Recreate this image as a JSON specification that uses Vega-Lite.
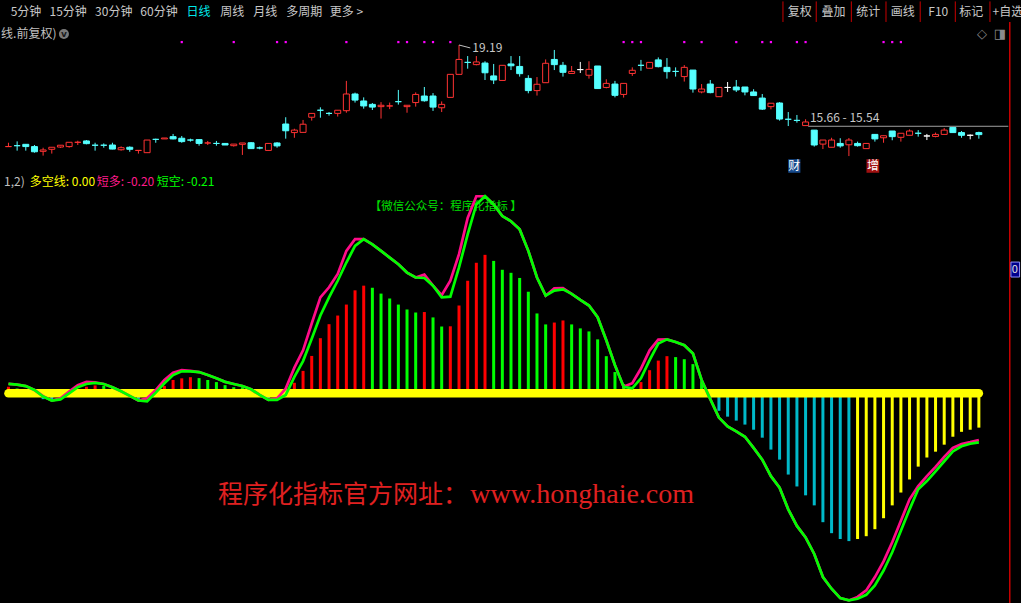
{
"$schema": "https://vega.github.io/schema/vega-lite/v6.json",
"usermeta": {"embedOptions": {"actions": false}},
"width": 1021, "height": 603, "autosize": "none", "padding": 0,
"background": "#000000",
"config": {"view": {"stroke": null}, "axis": {"disable": true}, "text": {"font": "Noto Sans CJK SC"}},
"datasets": {
"candles": [
{"i":0,"k":"fr","o":14.69,"h":14.86,"l":14.69,"c":14.69},
{"i":1,"k":"fc","o":14.73,"h":14.92,"l":14.51,"c":14.73},
{"i":2,"k":"dn","o":14.79,"h":14.79,"l":14.51,"c":14.69},
{"i":3,"k":"dn","o":14.69,"h":14.76,"l":14.42,"c":14.46},
{"i":4,"k":"up","o":14.48,"h":14.64,"l":14.29,"c":14.54},
{"i":5,"k":"up","o":14.57,"h":14.66,"l":14.38,"c":14.66},
{"i":6,"k":"up","o":14.67,"h":14.75,"l":14.63,"c":14.75},
{"i":7,"k":"up","o":14.69,"h":14.88,"l":14.64,"c":14.88},
{"i":8,"k":"fr","o":14.88,"h":14.95,"l":14.76,"c":14.88},
{"i":9,"k":"dn","o":14.94,"h":14.98,"l":14.79,"c":14.82},
{"i":10,"k":"fc","o":14.75,"h":14.86,"l":14.51,"c":14.75},
{"i":11,"k":"fc","o":14.75,"h":14.83,"l":14.64,"c":14.75},
{"i":12,"k":"dn","o":14.76,"h":14.86,"l":14.57,"c":14.58},
{"i":13,"k":"up","o":14.55,"h":14.70,"l":14.51,"c":14.64},
{"i":14,"k":"dn","o":14.66,"h":14.70,"l":14.46,"c":14.57},
{"i":15,"k":"fr","o":14.52,"h":14.52,"l":14.38,"c":14.52},
{"i":16,"k":"up","o":14.42,"h":14.98,"l":14.42,"c":14.98},
{"i":17,"k":"fc","o":15.01,"h":15.04,"l":14.86,"c":15.01},
{"i":18,"k":"up","o":15.03,"h":15.07,"l":15.03,"c":15.07},
{"i":19,"k":"dn","o":15.13,"h":15.25,"l":15.01,"c":15.03},
{"i":20,"k":"dn","o":15.06,"h":15.16,"l":14.86,"c":14.91},
{"i":21,"k":"fc","o":14.98,"h":15.04,"l":14.91,"c":14.98},
{"i":22,"k":"dn","o":15.00,"h":15.00,"l":14.73,"c":14.83},
{"i":23,"k":"fr","o":14.85,"h":14.94,"l":14.76,"c":14.85},
{"i":24,"k":"fc","o":14.83,"h":14.94,"l":14.73,"c":14.83},
{"i":25,"k":"dn","o":14.83,"h":14.83,"l":14.76,"c":14.76},
{"i":26,"k":"up","o":14.73,"h":14.80,"l":14.69,"c":14.80},
{"i":27,"k":"up","o":14.79,"h":14.85,"l":14.32,"c":14.85},
{"i":28,"k":"dn","o":14.86,"h":14.89,"l":14.60,"c":14.60},
{"i":29,"k":"fc","o":14.63,"h":14.69,"l":14.57,"c":14.63},
{"i":30,"k":"up","o":14.52,"h":14.83,"l":14.52,"c":14.83},
{"i":31,"k":"dn","o":14.85,"h":14.89,"l":14.64,"c":14.72},
{"i":32,"k":"dn","o":15.69,"h":15.99,"l":15.04,"c":15.39},
{"i":33,"k":"up","o":15.31,"h":15.48,"l":15.08,"c":15.42},
{"i":34,"k":"up","o":15.32,"h":15.87,"l":15.32,"c":15.68},
{"i":35,"k":"up","o":15.99,"h":16.16,"l":15.84,"c":16.16},
{"i":36,"k":"fc","o":16.30,"h":16.43,"l":15.97,"c":16.30},
{"i":37,"k":"fc","o":16.16,"h":16.22,"l":16.06,"c":16.16},
{"i":38,"k":"up","o":16.16,"h":16.30,"l":16.02,"c":16.30},
{"i":39,"k":"up","o":16.28,"h":17.60,"l":16.19,"c":17.02},
{"i":40,"k":"dn","o":17.02,"h":17.08,"l":16.64,"c":16.75},
{"i":41,"k":"dn","o":16.71,"h":16.87,"l":16.37,"c":16.49},
{"i":42,"k":"dn","o":16.56,"h":16.62,"l":16.31,"c":16.44},
{"i":43,"k":"up","o":16.46,"h":16.66,"l":15.93,"c":16.52},
{"i":44,"k":"fr","o":16.49,"h":16.64,"l":16.35,"c":16.49},
{"i":45,"k":"fc","o":16.68,"h":17.20,"l":16.55,"c":16.68},
{"i":46,"k":"up","o":16.46,"h":16.52,"l":16.19,"c":16.52},
{"i":47,"k":"up","o":16.64,"h":17.09,"l":16.46,"c":17.00},
{"i":48,"k":"dn","o":16.93,"h":17.33,"l":16.68,"c":16.72},
{"i":49,"k":"dn","o":16.93,"h":17.06,"l":16.27,"c":16.44},
{"i":50,"k":"up","o":16.41,"h":16.69,"l":16.22,"c":16.56},
{"i":51,"k":"up","o":16.87,"h":17.89,"l":16.87,"c":17.89},
{"i":52,"k":"up","o":17.89,"h":19.19,"l":17.89,"c":18.55},
{"i":53,"k":"fc","o":18.42,"h":18.70,"l":18.14,"c":18.42},
{"i":54,"k":"up","o":18.32,"h":18.70,"l":18.29,"c":18.44},
{"i":55,"k":"dn","o":18.39,"h":18.47,"l":17.64,"c":17.96},
{"i":56,"k":"dn","o":17.82,"h":18.35,"l":17.46,"c":17.64},
{"i":57,"k":"up","o":17.62,"h":18.29,"l":17.62,"c":18.29},
{"i":58,"k":"dn","o":18.35,"h":18.70,"l":18.08,"c":18.27},
{"i":59,"k":"dn","o":18.24,"h":18.70,"l":17.79,"c":17.92},
{"i":60,"k":"dn","o":17.71,"h":17.85,"l":17.05,"c":17.17},
{"i":61,"k":"up","o":17.17,"h":17.77,"l":16.95,"c":17.45},
{"i":62,"k":"up","o":17.52,"h":18.55,"l":17.52,"c":18.38},
{"i":63,"k":"dn","o":18.55,"h":18.97,"l":18.08,"c":18.32},
{"i":64,"k":"dn","o":18.29,"h":18.44,"l":17.79,"c":17.98},
{"i":65,"k":"up","o":17.93,"h":18.26,"l":17.93,"c":18.02},
{"i":66,"k":"fw","o":18.10,"h":18.44,"l":17.95,"c":18.10},
{"i":67,"k":"up","o":17.85,"h":18.47,"l":17.70,"c":18.11},
{"i":68,"k":"dn","o":18.26,"h":18.26,"l":17.26,"c":17.26},
{"i":69,"k":"up","o":17.31,"h":17.67,"l":17.27,"c":17.49},
{"i":70,"k":"dn","o":17.46,"h":17.60,"l":16.87,"c":16.96},
{"i":71,"k":"up","o":17.00,"h":17.49,"l":16.86,"c":17.49},
{"i":72,"k":"up","o":17.93,"h":18.20,"l":17.82,"c":18.07},
{"i":73,"k":"fc","o":18.29,"h":18.53,"l":18.05,"c":18.29},
{"i":74,"k":"up","o":18.16,"h":18.42,"l":18.16,"c":18.42},
{"i":75,"k":"dn","o":18.53,"h":18.64,"l":18.20,"c":18.23},
{"i":76,"k":"dn","o":18.20,"h":18.61,"l":17.70,"c":18.01},
{"i":77,"k":"fc","o":18.02,"h":18.20,"l":17.79,"c":18.02},
{"i":78,"k":"up","o":17.79,"h":18.30,"l":17.57,"c":18.20},
{"i":79,"k":"dn","o":18.08,"h":18.08,"l":17.08,"c":17.24},
{"i":80,"k":"up","o":17.11,"h":17.46,"l":17.05,"c":17.24},
{"i":81,"k":"dn","o":17.46,"h":17.64,"l":17.05,"c":17.08},
{"i":82,"k":"up","o":16.90,"h":17.31,"l":16.90,"c":17.31},
{"i":83,"k":"fw","o":17.31,"h":17.55,"l":17.11,"c":17.31},
{"i":84,"k":"dn","o":17.33,"h":17.64,"l":17.11,"c":17.20},
{"i":85,"k":"dn","o":17.33,"h":17.33,"l":16.96,"c":17.11},
{"i":86,"k":"dn","o":17.11,"h":17.23,"l":16.93,"c":16.95},
{"i":87,"k":"dn","o":16.84,"h":17.02,"l":16.31,"c":16.35},
{"i":88,"k":"up","o":16.46,"h":16.61,"l":16.34,"c":16.61},
{"i":89,"k":"dn","o":16.62,"h":16.66,"l":15.84,"c":15.91},
{"i":90,"k":"fc","o":15.90,"h":16.22,"l":15.60,"c":15.90},
{"i":91,"k":"fc","o":15.85,"h":16.09,"l":15.75,"c":15.85},
{"i":92,"k":"up","o":15.62,"h":15.90,"l":15.62,"c":15.78},
{"i":93,"k":"dn","o":15.42,"h":15.42,"l":14.69,"c":14.76},
{"i":94,"k":"up","o":14.80,"h":14.98,"l":14.58,"c":14.98},
{"i":95,"k":"up","o":14.66,"h":15.08,"l":14.66,"c":14.98},
{"i":96,"k":"dn","o":14.83,"h":15.06,"l":14.64,"c":14.72},
{"i":97,"k":"up","o":14.77,"h":15.07,"l":14.27,"c":14.98},
{"i":98,"k":"dn","o":14.83,"h":14.91,"l":14.69,"c":14.73},
{"i":99,"k":"up","o":14.60,"h":14.83,"l":14.60,"c":14.83},
{"i":100,"k":"dn","o":15.23,"h":15.23,"l":14.91,"c":15.03},
{"i":101,"k":"up","o":15.08,"h":15.17,"l":14.86,"c":15.17},
{"i":102,"k":"dn","o":15.38,"h":15.38,"l":14.97,"c":15.13},
{"i":103,"k":"up","o":15.10,"h":15.28,"l":14.91,"c":15.28},
{"i":104,"k":"up","o":15.19,"h":15.45,"l":15.19,"c":15.38},
{"i":105,"k":"fc","o":15.28,"h":15.42,"l":15.13,"c":15.28},
{"i":106,"k":"fw","o":15.16,"h":15.25,"l":14.98,"c":15.16},
{"i":107,"k":"up","o":15.14,"h":15.31,"l":15.10,"c":15.23},
{"i":108,"k":"up","o":15.23,"h":15.51,"l":15.23,"c":15.42},
{"i":109,"k":"dn","o":15.54,"h":15.54,"l":15.31,"c":15.31},
{"i":110,"k":"dn","o":15.31,"h":15.38,"l":15.08,"c":15.19},
{"i":111,"k":"fw","o":15.19,"h":15.23,"l":15.01,"c":15.19},
{"i":112,"k":"dn","o":15.31,"h":15.35,"l":15.04,"c":15.22}
],
"ind": [
{"i":0,"b":0.028,"bk":"r","p":0.040,"g":0.040},
{"i":1,"b":0.021,"bk":"gr","p":0.037,"g":0.037},
{"i":2,"b":0.017,"bk":"gr","p":0.031,"g":0.031},
{"i":3,"b":-0.008,"bk":"cy","p":0.014,"g":0.014},
{"i":4,"b":-0.025,"bk":"cy","p":-0.012,"g":-0.014},
{"i":5,"b":-0.030,"bk":"cy","p":-0.031,"g":-0.031},
{"i":6,"b":-0.008,"bk":"ye","p":-0.022,"g":-0.026},
{"i":7,"b":0.008,"bk":"r","p":0.007,"g":0.000},
{"i":8,"b":0.014,"bk":"r","p":0.035,"g":0.026},
{"i":9,"b":0.028,"bk":"r","p":0.049,"g":0.040},
{"i":10,"b":0.034,"bk":"r","p":0.047,"g":0.045},
{"i":11,"b":0.032,"bk":"gr","p":0.040,"g":0.040},
{"i":12,"b":0.026,"bk":"gr","p":0.026,"g":0.026},
{"i":13,"b":0.010,"bk":"gr","p":0.009,"g":0.009},
{"i":14,"b":-0.015,"bk":"cy","p":-0.011,"g":-0.011},
{"i":15,"b":-0.025,"bk":"cy","p":-0.031,"g":-0.031},
{"i":16,"b":0.004,"bk":"r","p":-0.021,"g":-0.034},
{"i":17,"b":0.010,"bk":"r","p":0.014,"g":0.003},
{"i":18,"b":0.031,"bk":"r","p":0.057,"g":0.043},
{"i":19,"b":0.057,"bk":"r","p":0.088,"g":0.078},
{"i":20,"b":0.064,"bk":"r","p":0.099,"g":0.094},
{"i":21,"b":0.069,"bk":"r","p":0.096,"g":0.094},
{"i":22,"b":0.065,"bk":"gr","p":0.091,"g":0.091},
{"i":23,"b":0.057,"bk":"gr","p":0.078,"g":0.078},
{"i":24,"b":0.048,"bk":"gr","p":0.064,"g":0.064},
{"i":25,"b":0.035,"bk":"gr","p":0.049,"g":0.049},
{"i":26,"b":0.026,"bk":"gr","p":0.040,"g":0.040},
{"i":27,"b":0.026,"bk":"gr","p":0.031,"g":0.031},
{"i":28,"b":0.020,"bk":"gr","p":0.017,"g":0.017},
{"i":29,"b":-0.010,"bk":"cy","p":-0.007,"g":-0.007},
{"i":30,"b":-0.020,"bk":"cy","p":-0.028,"g":-0.028},
{"i":31,"b":-0.005,"bk":"ye","p":-0.022,"g":-0.028},
{"i":32,"b":0.008,"bk":"r","p":0.020,"g":-0.007},
{"i":33,"b":0.045,"bk":"r","p":0.110,"g":0.070},
{"i":34,"b":0.096,"bk":"r","p":0.184,"g":0.138},
{"i":35,"b":0.160,"bk":"r","p":0.299,"g":0.234},
{"i":36,"b":0.236,"bk":"r","p":0.411,"g":0.333},
{"i":37,"b":0.296,"bk":"r","p":0.454,"g":0.411},
{"i":38,"b":0.333,"bk":"r","p":0.511,"g":0.482},
{"i":39,"b":0.380,"bk":"r","p":0.610,"g":0.560},
{"i":40,"b":0.441,"bk":"r","p":0.660,"g":0.631},
{"i":41,"b":0.461,"bk":"r","p":0.660,"g":0.660},
{"i":42,"b":0.452,"bk":"gr","p":0.638,"g":0.638},
{"i":43,"b":0.427,"bk":"gr","p":0.610,"g":0.610},
{"i":44,"b":0.406,"bk":"gr","p":0.581,"g":0.581},
{"i":45,"b":0.380,"bk":"gr","p":0.553,"g":0.553},
{"i":46,"b":0.359,"bk":"gr","p":0.517,"g":0.517},
{"i":47,"b":0.346,"bk":"gr","p":0.496,"g":0.496},
{"i":48,"b":0.348,"bk":"r","p":0.508,"g":0.494},
{"i":49,"b":0.325,"bk":"gr","p":0.461,"g":0.461},
{"i":50,"b":0.286,"bk":"gr","p":0.420,"g":0.411},
{"i":51,"b":0.287,"bk":"r","p":0.482,"g":0.414},
{"i":52,"b":0.376,"bk":"r","p":0.596,"g":0.539},
{"i":53,"b":0.482,"bk":"r","p":0.751,"g":0.681},
{"i":54,"b":0.559,"bk":"r","p":0.844,"g":0.809},
{"i":55,"b":0.593,"bk":"r","p":0.844,"g":0.844},
{"i":56,"b":0.567,"bk":"gr","p":0.809,"g":0.809},
{"i":57,"b":0.529,"bk":"gr","p":0.759,"g":0.759},
{"i":58,"b":0.516,"bk":"gr","p":0.737,"g":0.737},
{"i":59,"b":0.494,"bk":"gr","p":0.702,"g":0.702},
{"i":60,"b":0.435,"bk":"gr","p":0.610,"g":0.610},
{"i":61,"b":0.342,"bk":"gr","p":0.496,"g":0.496},
{"i":62,"b":0.295,"bk":"gr","p":0.418,"g":0.418},
{"i":63,"b":0.303,"bk":"r","p":0.449,"g":0.440},
{"i":64,"b":0.312,"bk":"r","p":0.450,"g":0.445},
{"i":65,"b":0.295,"bk":"gr","p":0.426,"g":0.426},
{"i":66,"b":0.278,"bk":"gr","p":0.400,"g":0.400},
{"i":67,"b":0.265,"bk":"gr","p":0.376,"g":0.376},
{"i":68,"b":0.231,"bk":"gr","p":0.326,"g":0.326},
{"i":69,"b":0.159,"bk":"gr","p":0.227,"g":0.227},
{"i":70,"b":0.091,"bk":"gr","p":0.120,"g":0.120},
{"i":71,"b":0.040,"bk":"gr","p":0.028,"g":0.028},
{"i":72,"b":0.008,"bk":"r","p":0.043,"g":0.021},
{"i":73,"b":0.048,"bk":"r","p":0.106,"g":0.064},
{"i":74,"b":0.099,"bk":"r","p":0.184,"g":0.142},
{"i":75,"b":0.140,"bk":"r","p":0.230,"g":0.213},
{"i":76,"b":0.159,"bk":"r","p":0.231,"g":0.231},
{"i":77,"b":0.155,"bk":"gr","p":0.220,"g":0.220},
{"i":78,"b":0.146,"bk":"gr","p":0.206,"g":0.206},
{"i":79,"b":0.125,"bk":"gr","p":0.170,"g":0.170},
{"i":80,"b":0.052,"bk":"gr","p":0.057,"g":0.057},
{"i":81,"b":-0.018,"bk":"cy","p":-0.025,"g":-0.025},
{"i":82,"b":-0.075,"bk":"cy","p":-0.104,"g":-0.104},
{"i":83,"b":-0.100,"bk":"cy","p":-0.142,"g":-0.142},
{"i":84,"b":-0.117,"bk":"cy","p":-0.163,"g":-0.163},
{"i":85,"b":-0.134,"bk":"cy","p":-0.186,"g":-0.186},
{"i":86,"b":-0.156,"bk":"cy","p":-0.234,"g":-0.234},
{"i":87,"b":-0.190,"bk":"cy","p":-0.284,"g":-0.284},
{"i":88,"b":-0.241,"bk":"cy","p":-0.355,"g":-0.355},
{"i":89,"b":-0.284,"bk":"cy","p":-0.404,"g":-0.404},
{"i":90,"b":-0.348,"bk":"cy","p":-0.497,"g":-0.497},
{"i":91,"b":-0.399,"bk":"cy","p":-0.568,"g":-0.568},
{"i":92,"b":-0.437,"bk":"cy","p":-0.617,"g":-0.617},
{"i":93,"b":-0.480,"bk":"cy","p":-0.688,"g":-0.688},
{"i":94,"b":-0.552,"bk":"cy","p":-0.787,"g":-0.787},
{"i":95,"b":-0.599,"bk":"cy","p":-0.837,"g":-0.837},
{"i":96,"b":-0.624,"bk":"cy","p":-0.877,"g":-0.877},
{"i":97,"b":-0.633,"bk":"cy","p":-0.887,"g":-0.887},
{"i":98,"b":-0.624,"bk":"ye","p":-0.872,"g":-0.880},
{"i":99,"b":-0.612,"bk":"ye","p":-0.844,"g":-0.863},
{"i":100,"b":-0.582,"bk":"ye","p":-0.787,"g":-0.823},
{"i":101,"b":-0.535,"bk":"ye","p":-0.720,"g":-0.759},
{"i":102,"b":-0.480,"bk":"ye","p":-0.638,"g":-0.681},
{"i":103,"b":-0.425,"bk":"ye","p":-0.546,"g":-0.589},
{"i":104,"b":-0.369,"bk":"ye","p":-0.454,"g":-0.497},
{"i":105,"b":-0.314,"bk":"ye","p":-0.397,"g":-0.411},
{"i":106,"b":-0.275,"bk":"ye","p":-0.355,"g":-0.376},
{"i":107,"b":-0.250,"bk":"ye","p":-0.315,"g":-0.334},
{"i":108,"b":-0.220,"bk":"ye","p":-0.272,"g":-0.291},
{"i":109,"b":-0.186,"bk":"ye","p":-0.234,"g":-0.249},
{"i":110,"b":-0.165,"bk":"ye","p":-0.217,"g":-0.227},
{"i":111,"b":-0.156,"bk":"ye","p":-0.209,"g":-0.216},
{"i":112,"b":-0.147,"bk":"ye","p":-0.200,"g":-0.210}
]
},
"encoding": {"x": {"field": "i", "type": "quantitative", "scale": {"domain": [-0.4, 116.2857], "nice": false, "zero": false}, "axis": null}},
"layer": [
{
"data": {"name": "candles"},
"layer": [
{"data": {"values": [{"p":18.07},{"p":16.52},{"p":14.97}]},
 "mark": {"type": "rule", "color": "#d00000", "strokeWidth": 1, "strokeDash": [1.2, 3.2]},
 "encoding": {"x": {"datum": -0.4}, "x2": {"datum": 115.14}, "y": {"field": "p", "type": "quantitative", "scale": {"domain": [-5.529, 21.1835], "nice": false, "zero": false}, "axis": null}}},
{"data": {"values": [{"p":18.07},{"p":16.52},{"p":14.97}]},
 "mark": {"type": "rule", "color": "#c80000", "strokeWidth": 1},
 "encoding": {"x": {"datum": 115.57}, "x2": {"datum": 116.29}, "y": {"field": "p", "type": "quantitative", "scale": {"domain": [-5.529, 21.1835], "nice": false, "zero": false}, "axis": null}}},
{"data": {"values": [{"p":18.845},{"p":17.295},{"p":15.745},{"p":14.195}]},
 "mark": {"type": "rule", "color": "#c80000", "strokeWidth": 1},
 "encoding": {"x": {"datum": 115.57}, "x2": {"datum": 115.95}, "y": {"field": "p", "type": "quantitative", "scale": {"domain": [-5.529, 21.1835], "nice": false, "zero": false}, "axis": null}}},
{"mark": {"type": "rule", "strokeWidth": 1},
 "encoding": {"y": {"field": "l", "type": "quantitative", "scale": {"domain": [-5.529, 21.1835], "nice": false, "zero": false}, "axis": null}, "y2": {"field": "h"},
  "color": {"field": "k", "type": "nominal", "scale": {"domain": ["up","dn","fr","fc","fw"], "range": ["#ff3333","#55ffff","#ff3333","#55ffff","#ffffff"]}, "legend": null}}},
{"mark": {"type": "bar", "size": 6, "strokeWidth": 1},
 "encoding": {"y": {"field": "o", "type": "quantitative", "scale": {"domain": [-5.529, 21.1835], "nice": false, "zero": false}, "axis": null}, "y2": {"field": "c"},
  "stroke": {"field": "k", "type": "nominal", "scale": {"domain": ["up","dn","fr","fc","fw"], "range": ["#ff3333","#55ffff","#ff3333","#55ffff","#ffffff"]}, "legend": null},
  "fill": {"field": "k", "type": "nominal", "scale": {"domain": ["up","dn","fr","fc","fw"], "range": ["#000000","#55ffff","#ff3333","#55ffff","#ffffff"]}, "legend": null}}},
{"data": {"values": [{"i":20},{"i":26},{"i":31},{"i":32},{"i":39},{"i":45},{"i":46},{"i":48},{"i":49},{"i":51},{"i":71},{"i":72},{"i":73},{"i":78},{"i":80},{"i":84},{"i":87},{"i":88},{"i":91},{"i":92},{"i":101},{"i":102},{"i":103}]},
 "mark": {"type": "square", "color": "#ff00ff", "size": 5, "opacity": 1},
 "encoding": {"y": {"datum": 19.32, "scale": {"domain": [-5.529, 21.1835], "nice": false, "zero": false}, "axis": null}}},
{"data": {"values": [{"i":52,"i2":53.3,"p":19.19,"p2":19.06}]},
 "mark": {"type": "rule", "color": "#c0c0c0", "strokeWidth": 1},
 "encoding": {"x2": {"field": "i2"}, "y": {"field": "p", "type": "quantitative", "scale": {"domain": [-5.529, 21.1835], "nice": false, "zero": false}, "axis": null}, "y2": {"field": "p2"}}},
{"data": {"values": [{"i":92.3,"i2":115.4,"p":15.59}]},
 "mark": {"type": "rule", "color": "#a0a0a0", "strokeWidth": 1},
 "encoding": {"x2": {"field": "i2"}, "y": {"field": "p", "type": "quantitative", "scale": {"domain": [-5.529, 21.1835], "nice": false, "zero": false}, "axis": null}}},
{"data": {"values": [{"i":53.54,"p":19.04,"t":"19.19"},{"i":92.5,"p":15.97,"t":"15.66 - 15.54"}]},
 "mark": {"type": "text", "align": "left", "baseline": "middle", "fontSize": 12, "color": "#c8c8c8"},
 "encoding": {"y": {"field": "p", "type": "quantitative", "scale": {"domain": [-5.529, 21.1835], "nice": false, "zero": false}, "axis": null}, "text": {"field": "t"}}},
{"data": {"values": [{"i":90.0,"i2":91.4,"p":14.13,"p2":13.53}]},
 "mark": {"type": "rect", "color": "#174a8c"},
 "encoding": {"x2": {"field": "i2"}, "y": {"field": "p", "type": "quantitative", "scale": {"domain": [-5.529, 21.1835], "nice": false, "zero": false}, "axis": null}, "y2": {"field": "p2"}}},
{"data": {"values": [{"i":99.03,"i2":100.5,"p":14.13,"p2":13.53}]},
 "mark": {"type": "rect", "color": "#a01010"},
 "encoding": {"x2": {"field": "i2"}, "y": {"field": "p", "type": "quantitative", "scale": {"domain": [-5.529, 21.1835], "nice": false, "zero": false}, "axis": null}, "y2": {"field": "p2"}}},
{"data": {"values": [{"i":90.7,"p":13.83,"t":"财"},{"i":99.77,"p":13.83,"t":"增"}]},
 "mark": {"type": "text", "align": "center", "baseline": "middle", "fontSize": 12, "color": "#ffffff"},
 "encoding": {"y": {"field": "p", "type": "quantitative", "scale": {"domain": [-5.529, 21.1835], "nice": false, "zero": false}, "axis": null}, "text": {"field": "t"}}},
{"data": {"values": [{"p":20.21},{"p":13.475}]},
 "mark": {"type": "rule", "color": "#c80000", "strokeWidth": 1},
 "encoding": {"x": {"datum": -0.4}, "x2": {"datum": 116.29}, "y": {"field": "p", "type": "quantitative", "scale": {"domain": [-5.529, 21.1835], "nice": false, "zero": false}, "axis": null}}},
{"data": {"values": [{"p":21.16}]},
 "mark": {"type": "rule", "color": "#808080", "strokeWidth": 1},
 "encoding": {"x": {"datum": -0.4}, "x2": {"datum": 116.29}, "y": {"field": "p", "type": "quantitative", "scale": {"domain": [-5.529, 21.1835], "nice": false, "zero": false}, "axis": null}}},
{"data": {"values": [{"i":115.566}]},
 "mark": {"type": "rule", "color": "#c80000", "strokeWidth": 1.5},
 "encoding": {"y": {"datum": 20.21, "scale": {"domain": [-5.529, 21.1835], "nice": false, "zero": false}, "axis": null}, "y2": {"datum": -5.529}}},
{"data": {"values": [{"i":89.39},{"i":93.23},{"i":97.28},{"i":101.28},{"i":105.23},{"i":109.28},{"i":113.28}]},
 "mark": {"type": "rule", "color": "#c80000", "strokeWidth": 1},
 "encoding": {"y": {"datum": 21.12, "scale": {"domain": [-5.529, 21.1835], "nice": false, "zero": false}, "axis": null}, "y2": {"datum": 20.21}}},
{"data": {"values": [{"i":0.25,"t":"5分钟"},{"i":4.74,"t":"15分钟"},{"i":10.0,"t":"30分钟"},{"i":15.22,"t":"60分钟"},{"i":24.43,"t":"周线"},{"i":28.25,"t":"月线"},{"i":32.06,"t":"多周期"},{"i":37.09,"t":"更多 >"},{"i":113.58,"t":"+自选"}]},
 "mark": {"type": "text", "align": "left", "baseline": "middle", "fontSize": 12, "color": "#c8c8c8"},
 "encoding": {"y": {"datum": 20.63, "scale": {"domain": [-5.529, 21.1835], "nice": false, "zero": false}, "axis": null}, "text": {"field": "t"}}},
{"data": {"values": [{"i":20.55,"t":"日线"}]},
 "mark": {"type": "text", "align": "left", "baseline": "middle", "fontSize": 12, "color": "#00e8e8"},
 "encoding": {"y": {"datum": 20.63, "scale": {"domain": [-5.529, 21.1835], "nice": false, "zero": false}, "axis": null}, "text": {"field": "t"}}},
{"data": {"values": [{"i":91.34,"t":"复权"},{"i":95.22,"t":"叠加"},{"i":99.22,"t":"统计"},{"i":103.22,"t":"画线"},{"i":107.31,"t":"F10"},{"i":111.11,"t":"标记"}]},
 "mark": {"type": "text", "align": "center", "baseline": "middle", "fontSize": 12, "color": "#c8c8c8"},
 "encoding": {"y": {"datum": 20.63, "scale": {"domain": [-5.529, 21.1835], "nice": false, "zero": false}, "axis": null}, "text": {"field": "t"}}},
{"data": {"values": [{"i":5.54,"t":"(日线.前复权)"}]},
 "mark": {"type": "text", "align": "right", "baseline": "middle", "fontSize": 12, "color": "#c0c0c0"},
 "encoding": {"y": {"datum": 19.68, "scale": {"domain": [-5.529, 21.1835], "nice": false, "zero": false}, "axis": null}, "text": {"field": "t"}}},
{"data": {"values": [{"i":6.4}]},
 "mark": {"type": "circle", "color": "#7a7a7a", "size": 100, "opacity": 1},
 "encoding": {"y": {"datum": 19.68, "scale": {"domain": [-5.529, 21.1835], "nice": false, "zero": false}, "axis": null}}},
{"data": {"values": [{"i":6.4,"t":"v"}]},
 "mark": {"type": "text", "align": "center", "baseline": "middle", "fontSize": 9, "fontWeight": "bold", "color": "#1a1a1a", "font": "DejaVu Sans"},
 "encoding": {"y": {"datum": 19.68, "scale": {"domain": [-5.529, 21.1835], "nice": false, "zero": false}, "axis": null}, "text": {"field": "t"}}},
{"data": {"values": [{"i":112.36,"t":"◇"},{"i":114.44,"t":"◨"}]},
 "mark": {"type": "text", "align": "center", "baseline": "middle", "fontSize": 13, "color": "#8a8a8a", "font": "DejaVu Sans"},
 "encoding": {"y": {"datum": 19.68, "scale": {"domain": [-5.529, 21.1835], "nice": false, "zero": false}, "axis": null}, "text": {"field": "t"}}},
{"data": {"values": [{"i":1.886,"t":"1,2)"}]},
 "mark": {"type": "text", "align": "right", "baseline": "middle", "fontSize": 12, "color": "#c0c0c0"},
 "encoding": {"y": {"datum": 13.10, "scale": {"domain": [-5.529, 21.1835], "nice": false, "zero": false}, "axis": null}, "text": {"field": "t"}}},
{"data": {"values": [{"i":2.46,"t":"多空线: 0.00"}]},
 "mark": {"type": "text", "align": "left", "baseline": "middle", "fontSize": 12, "color": "#ffff00"},
 "encoding": {"y": {"datum": 13.10, "scale": {"domain": [-5.529, 21.1835], "nice": false, "zero": false}, "axis": null}, "text": {"field": "t"}}},
{"data": {"values": [{"i":10.19,"t":"短多: -0.20"}]},
 "mark": {"type": "text", "align": "left", "baseline": "middle", "fontSize": 12, "color": "#ff1a8c"},
 "encoding": {"y": {"datum": 13.10, "scale": {"domain": [-5.529, 21.1835], "nice": false, "zero": false}, "axis": null}, "text": {"field": "t"}}},
{"data": {"values": [{"i":17.12,"t":"短空: -0.21"}]},
 "mark": {"type": "text", "align": "left", "baseline": "middle", "fontSize": 12, "color": "#00ff00"},
 "encoding": {"y": {"datum": 13.10, "scale": {"domain": [-5.529, 21.1835], "nice": false, "zero": false}, "axis": null}, "text": {"field": "t"}}}
]
},
{
"data": {"name": "ind"},
"layer": [
{"data": {"values": [{"v":0.8},{"v":0.6},{"v":0.4},{"v":0.2},{"v":0},{"v":-0.2},{"v":-0.4},{"v":-0.6}]},
 "mark": {"type": "rule", "color": "#d00000", "strokeWidth": 1, "strokeDash": [1.2, 3.2]},
 "encoding": {"x": {"datum": -0.4}, "x2": {"datum": 115.14}, "y": {"field": "v", "type": "quantitative", "scale": {"domain": [-0.8981, 1.6844], "nice": false, "zero": false}, "axis": null}}},
{"data": {"values": [{"v":0.8},{"v":0.6},{"v":0.4},{"v":0.2},{"v":0},{"v":-0.2},{"v":-0.4},{"v":-0.6}]},
 "mark": {"type": "rule", "color": "#c80000", "strokeWidth": 1},
 "encoding": {"x": {"datum": 115.57}, "x2": {"datum": 116.29}, "y": {"field": "v", "type": "quantitative", "scale": {"domain": [-0.8981, 1.6844], "nice": false, "zero": false}, "axis": null}}},
{"data": {"values": [{"v":0.7},{"v":0.5},{"v":0.3},{"v":0.1},{"v":-0.1},{"v":-0.3},{"v":-0.5},{"v":-0.7}]},
 "mark": {"type": "rule", "color": "#c80000", "strokeWidth": 1},
 "encoding": {"x": {"datum": 115.57}, "x2": {"datum": 115.95}, "y": {"field": "v", "type": "quantitative", "scale": {"domain": [-0.8981, 1.6844], "nice": false, "zero": false}, "axis": null}}},
{"data": {"values": [{"i":50.46,"v":0.8,"t":"【微信公众号：程序化指标 】"}]},
 "mark": {"type": "text", "align": "center", "baseline": "middle", "fontSize": 11.5, "color": "#00e000"},
 "encoding": {"y": {"field": "v", "type": "quantitative", "scale": {"domain": [-0.8981, 1.6844], "nice": false, "zero": false}, "axis": null}, "text": {"field": "t"}}},
{"mark": {"type": "bar", "size": 3},
 "encoding": {"y": {"field": "b", "type": "quantitative", "scale": {"domain": [-0.8981, 1.6844], "nice": false, "zero": false}, "axis": null}, "y2": {"datum": 0},
  "color": {"field": "bk", "type": "nominal", "scale": {"domain": ["r","gr","cy","ye"], "range": ["#ff0000","#00ff00","#00b9c8","#ffff00"]}, "legend": null}}},
{"data": {"values": [{"i":24.17,"v":-0.4355,"t":"程序化指标官方网址："}]},
 "mark": {"type": "text", "align": "left", "baseline": "middle", "fontSize": 25, "color": "#e02020", "font": "Noto Sans CJK SC"},
 "encoding": {"y": {"field": "v", "type": "quantitative", "scale": {"domain": [-0.8981, 1.6844], "nice": false, "zero": false}, "axis": null}, "text": {"field": "t"}}},
{"data": {"values": [{"i":53.31,"v":-0.4355,"t":"www.honghaie.com"}]},
 "mark": {"type": "text", "align": "left", "baseline": "middle", "fontSize": 28, "color": "#e02020", "font": "Liberation Serif"},
 "encoding": {"y": {"field": "v", "type": "quantitative", "scale": {"domain": [-0.8981, 1.6844], "nice": false, "zero": false}, "axis": null}, "text": {"field": "t"}}},
{"mark": {"type": "line", "color": "#ffff00", "strokeWidth": 8.5, "strokeCap": "round"},
 "encoding": {"y": {"datum": 0, "scale": {"domain": [-0.8981, 1.6844], "nice": false, "zero": false}, "axis": null}}},
{"mark": {"type": "line", "color": "#ff0c88", "strokeWidth": 2.7},
 "encoding": {"y": {"field": "p", "type": "quantitative", "scale": {"domain": [-0.8981, 1.6844], "nice": false, "zero": false}, "axis": null}}},
{"mark": {"type": "line", "color": "#00ff00", "strokeWidth": 2.7},
 "encoding": {"y": {"field": "g", "type": "quantitative", "scale": {"domain": [-0.8981, 1.6844], "nice": false, "zero": false}, "axis": null}}},
{"data": {"values": [{"i":115.7,"i2":116.7,"v":0.562,"v2":0.498}]},
 "mark": {"type": "rect", "color": "#00008c", "stroke": "#9090ff", "strokeWidth": 1},
 "encoding": {"x2": {"field": "i2"}, "y": {"field": "v", "type": "quantitative", "scale": {"domain": [-0.8981, 1.6844], "nice": false, "zero": false}, "axis": null}, "y2": {"field": "v2"}}},
{"data": {"values": [{"i":115.8,"v":0.53,"t":"0"}]},
 "mark": {"type": "text", "align": "left", "baseline": "middle", "fontSize": 11, "color": "#e0e0e0"},
 "encoding": {"y": {"field": "v", "type": "quantitative", "scale": {"domain": [-0.8981, 1.6844], "nice": false, "zero": false}, "axis": null}, "text": {"field": "t"}}}
]
}
],
"resolve": {"scale": {"y": "independent", "color": "independent", "fill": "independent", "stroke": "independent"}}
}
